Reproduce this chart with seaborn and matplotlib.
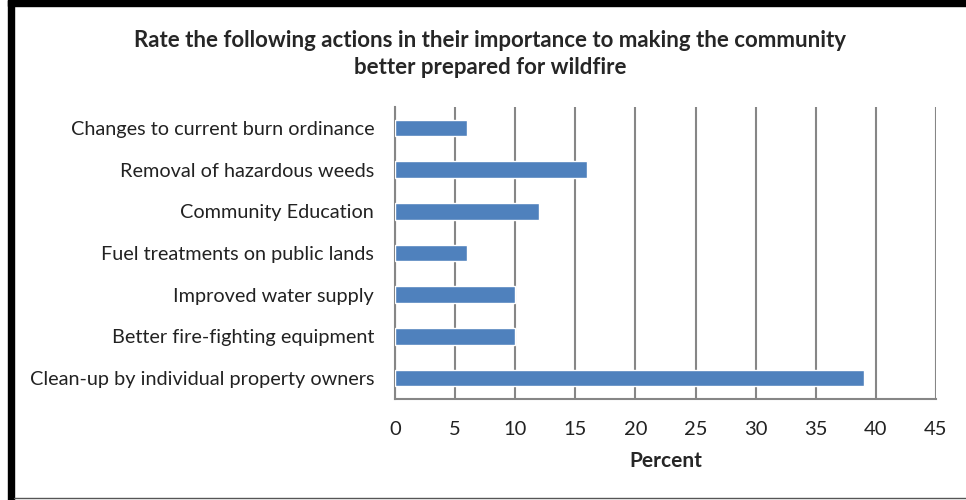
import matplotlib
matplotlib.use("Agg")
import matplotlib.pyplot as plt
import seaborn as sns
import pandas as pd
from matplotlib.patches import Rectangle
from matplotlib.lines import Line2D

categories = [
    "Changes to current burn ordinance",
    "Removal of hazardous weeds",
    "Community Education",
    "Fuel treatments on public lands",
    "Improved water supply",
    "Better fire-fighting equipment",
    "Clean-up by individual property owners",
]
percent = [6, 16, 12, 6, 10, 10, 39]
x_ticks = [0, 5, 10, 15, 20, 25, 30, 35, 40, 45]

title = "Rate the following actions in their importance to making the community\nbetter prepared for wildfire"
xlabel = "Percent"

df = pd.DataFrame({"action": categories, "percent": percent})

sns.set_style("white")
plt.rcParams["font.family"] = ["Lato", "DejaVu Sans"]

W, H = 966, 500
fig = plt.figure(figsize=(W / 100, H / 100), dpi=100)
ax = fig.add_axes([395 / W, 1 - 399 / H, (936 - 395) / W, (399 - 107) / H])

sns.barplot(data=df, x="percent", y="action", orient="h", color="#4F81BD",
            saturation=1, width=0.4, ax=ax, zorder=3)

ax.set_xlim(0, 45)
ax.set_xticks(x_ticks)
ax.set_xticklabels([str(t) for t in x_ticks], fontsize=14.5, color="#222222")
ax.set_ylim(len(categories) - 0.5, -0.5)
ax.tick_params(axis="y", labelsize=14.3, labelcolor="#222222", length=0, pad=15)
ax.tick_params(axis="x", direction="out", length=7, width=1.5, color="#868686", pad=9)
# minor ticks on y at category boundaries
ax.set_yticks([i - 0.5 for i in range(len(categories) + 1)], minor=True)
ax.tick_params(axis="y", which="minor", direction="out", length=7, width=1.5, color="#868686")

ax.grid(axis="x", color="#868686", linewidth=1.5, zorder=0)
ax.set_axisbelow(True)
for s in ["top", "right"]:
    ax.spines[s].set_visible(False)
for s in ["left", "bottom"]:
    ax.spines[s].set_color("#868686")
    ax.spines[s].set_linewidth(1.5)

ax.set_ylabel("")
ax.set_xlabel(xlabel, fontsize=15, fontweight="bold", labelpad=9)

fig.text(490 / W, 1 - 54 / H, title, ha="center", va="center", fontsize=16,
         fontweight="bold", linespacing=1.4)

# border
fig.add_artist(Rectangle((8 / W, 0), 6 / W, 1, transform=fig.transFigure, color="black"))
fig.add_artist(Rectangle((8 / W, 1 - 6 / H), 1 - 8 / W, 6 / H, transform=fig.transFigure, color="black"))
fig.add_artist(Line2D([14 / W, 1], [2.5 / H, 2.5 / H], transform=fig.transFigure, color="#555555", linewidth=1))

fig.savefig("out.png", dpi=100)
